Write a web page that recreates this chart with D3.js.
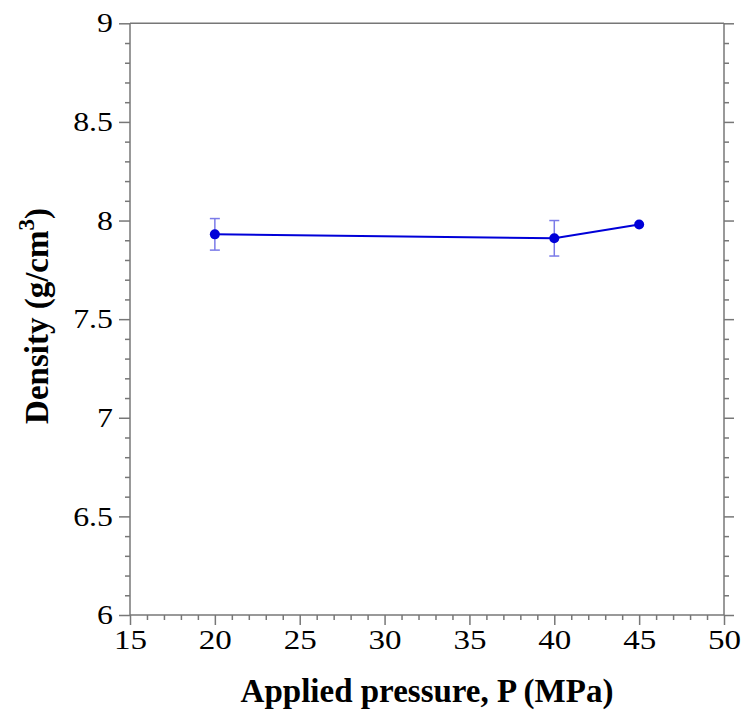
<!DOCTYPE html>
<html><head><meta charset="utf-8">
<script src="https://cdn.jsdelivr.net/npm/d3@7"></script>
<style>body{margin:0;background:#fff;} svg{display:block;} text{font-family:'Liberation Serif','Times New Roman',serif;}</style>
</head><body>
<script>
const pressure = [20, 40, 45];
const density = [7.93, 7.91, 7.98];
const errors = [0.08, 0.09, 0];
const xTicks = [15, 20, 25, 30, 35, 40, 45, 50];
const yTicks = [6, 6.5, 7, 7.5, 8, 8.5, 9];
const yTickLabels = ["6", "6.5", "7", "7.5", "8", "8.5", "9"];

const W = 742, H = 720;
const svg = d3.select("body").append("svg").attr("width", W).attr("height", H);
const L = 130, R = 724, T = 23.3, B = 615;
const x = d3.scaleLinear().domain([15, 50]).range([L, R]);
const y = d3.scaleLinear().domain([6, 9]).range([B, T]);
const axisCol = "#777";
const font = "'Liberation Serif', 'Times New Roman', serif";
const sx = 1.18;

// frame
const g = svg.append("g");
g.append("line").attr("x1", L).attr("x2", R).attr("y1", T).attr("y2", T).attr("stroke", axisCol).attr("stroke-width", 1.5);
g.append("line").attr("x1", L).attr("x2", R).attr("y1", B).attr("y2", B).attr("stroke", axisCol).attr("stroke-width", 1.5);
g.append("line").attr("x1", L).attr("x2", L).attr("y1", T).attr("y2", B).attr("stroke", axisCol).attr("stroke-width", 1.5);
g.append("line").attr("x1", R).attr("x2", R).attr("y1", T).attr("y2", B).attr("stroke", axisCol).attr("stroke-width", 1.5);

const isMajorY = v => Math.abs(v * 2 - Math.round(v * 2)) < 1e-6;
const yMinor = d3.range(0, 31).map(i => 6 + i * 0.1).filter(v => !isMajorY(v));

// y axes
const leftAxis = d3.axisLeft(y).tickValues(yTicks).tickFormat((d, i) => yTickLabels[i]).tickSize(11).tickPadding(6);
const la = svg.append("g").attr("transform", `translate(${L},0)`).call(leftAxis);
la.attr("font-family", null).attr("font-size", null);
la.select(".domain").remove();
la.selectAll("line").attr("stroke", axisCol).attr("stroke-width", 1.5);
la.selectAll("text").style("font-family", font).style("font-size", "27px").attr("fill", "#000")
  .attr("x", -17 / sx).attr("transform", `scale(${sx},1)`);
const laMinor = svg.append("g").attr("transform", `translate(${L},0)`).call(d3.axisLeft(y).tickValues(yMinor).tickSize(5).tickFormat(""));
laMinor.select(".domain").remove();
laMinor.selectAll("line").attr("stroke", axisCol).attr("stroke-width", 1.5);

const ra = svg.append("g").attr("transform", `translate(${R},0)`).call(d3.axisRight(y).tickValues(yTicks).tickSize(10).tickFormat(""));
ra.select(".domain").remove();
ra.selectAll("line").attr("stroke", axisCol).attr("stroke-width", 1.5);
const raMinor = svg.append("g").attr("transform", `translate(${R},0)`).call(d3.axisRight(y).tickValues(yMinor).tickSize(5).tickFormat(""));
raMinor.select(".domain").remove();
raMinor.selectAll("line").attr("stroke", axisCol).attr("stroke-width", 1.5);

// x axis
const ba = svg.append("g").attr("transform", `translate(0,${B})`).call(d3.axisBottom(x).tickValues(xTicks).tickSize(10).tickPadding(4));
ba.attr("font-family", null).attr("font-size", null);
ba.select(".domain").remove();
ba.selectAll("line").attr("stroke", axisCol).attr("stroke-width", 1.5);
ba.selectAll("text").style("font-family", font).style("font-size", "28px").attr("fill", "#000")
  .attr("transform", `scale(${sx},1)`);
const xMinor = d3.range(15, 51).filter(v => v % 5 !== 0);
const baMinor = svg.append("g").attr("transform", `translate(0,${B})`).call(d3.axisBottom(x).tickValues(xMinor).tickSize(5).tickFormat(""));
baMinor.select(".domain").remove();
baMinor.selectAll("line").attr("stroke", axisCol).attr("stroke-width", 1.5);

// data
const data = pressure.map((p, i) => ({p, d: density[i], e: errors[i]}));
const eb = svg.append("g").attr("stroke", "#7b7be8").attr("stroke-width", 1.5);
data.filter(d => d.e > 0).forEach(d => {
  eb.append("line").attr("x1", x(d.p)).attr("x2", x(d.p)).attr("y1", y(d.d - d.e)).attr("y2", y(d.d + d.e));
  eb.append("line").attr("x1", x(d.p) - 5).attr("x2", x(d.p) + 5).attr("y1", y(d.d - d.e)).attr("y2", y(d.d - d.e));
  eb.append("line").attr("x1", x(d.p) - 5).attr("x2", x(d.p) + 5).attr("y1", y(d.d + d.e)).attr("y2", y(d.d + d.e));
});
svg.append("path").datum(data)
  .attr("d", d3.line().x(d => x(d.p)).y(d => y(d.d)))
  .attr("fill", "none").attr("stroke", "#0000d8").attr("stroke-width", 2);
svg.selectAll("circle.pt").data(data).enter().append("circle")
  .attr("cx", d => x(d.p)).attr("cy", d => y(d.d)).attr("r", 5).attr("fill", "#0000d8");

// titles
svg.append("text").attr("x", (L + R) / 2).attr("y", 702).attr("text-anchor", "middle")
  .style("font-family", font).attr("font-weight", "bold").attr("font-size", 33).attr("fill", "#000")
  .text("Applied pressure, P (MPa)");
const yt = svg.append("text").attr("transform", "translate(48,316) rotate(-90)").attr("text-anchor", "middle")
  .style("font-family", font).attr("font-weight", "bold").attr("font-size", 33).attr("fill", "#000");
yt.append("tspan").text("Density (g/cm");
yt.append("tspan").attr("dy", -14).attr("font-size", 23).text("3");
yt.append("tspan").attr("dy", 14).text(")");
</script>
</body></html>
